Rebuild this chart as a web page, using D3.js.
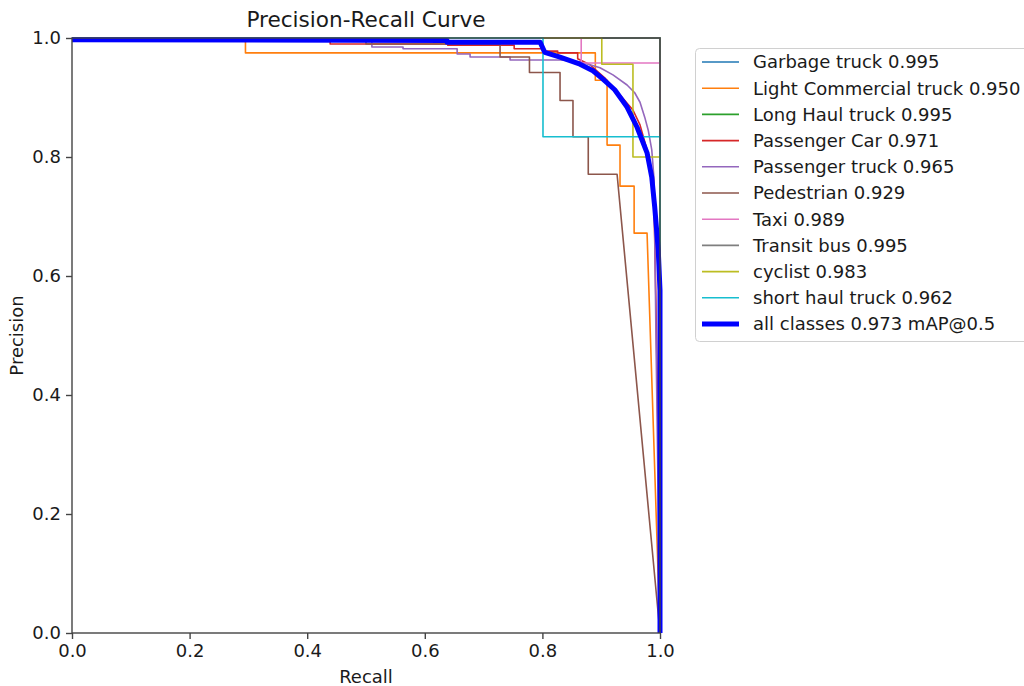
<!DOCTYPE html>
<html>
<head>
<meta charset="utf-8">
<script src="https://cdn.jsdelivr.net/npm/d3@7"></script>
<style>
  body { margin: 0; background: #fff; }
  text { font-family: "DejaVu Sans", sans-serif; fill: #1a1a1a; }
</style>
</head>
<body>
<div id="chart"></div>
<script>
// class names, AP values and colours (matplotlib tab10 + blue for all classes)
const classNames = ["Garbage truck", "Light Commercial truck", "Long Haul truck", "Passenger Car",
  "Passenger truck", "Pedestrian", "Taxi", "Transit bus", "cyclist", "short haul truck"];
const apValues = [0.995, 0.950, 0.995, 0.971, 0.965, 0.929, 0.989, 0.995, 0.983, 0.962];
const colors = ["#1f77b4", "#ff7f0e", "#2ca02c", "#d62728", "#9467bd",
  "#8c564b", "#e377c2", "#7f7f7f", "#bcbd22", "#17becf"];
const allLabel = "all classes 0.973 mAP@0.5";

const xTicks = [0, 0.2, 0.4, 0.6, 0.8, 1.0];
const yTicks = [0, 0.2, 0.4, 0.6, 0.8, 1.0];

// recall / precision points, one pair of arrays per class
const garbageR = [0, 1, 1];
const garbageP = [1, 1, 0];
const lightR = [0, 0.295, 0.295, 0.89, 0.89, 0.91, 0.91, 0.932, 0.932, 0.956, 0.956, 0.978, 1.0];
const lightP = [1, 1, 0.975, 0.975, 0.929, 0.929, 0.82, 0.82, 0.751, 0.751, 0.672, 0.672, 0.0];
const longR = [0, 1, 1];
const longP = [1, 1, 0];
const carR = [0, 0.439, 0.439, 0.639, 0.639, 0.752, 0.752, 0.8, 0.8, 0.826, 0.826, 0.86, 0.86,
  0.881, 0.906, 0.932, 0.954, 0.966, 0.978, 0.986, 0.99, 0.993, 0.997, 1.0];
const carP = [1, 1, 0.99, 0.99, 0.988, 0.988, 0.982, 0.982, 0.978, 0.978, 0.975, 0.975, 0.965,
  0.955, 0.933, 0.904, 0.879, 0.854, 0.812, 0.77, 0.711, 0.56, 0.31, 0.0];
const ptruckR = [0, 0.01, 0.51, 0.51, 0.563, 0.563, 0.655, 0.655, 0.677, 0.677, 0.745, 0.745,
  0.83, 0.864, 0.898, 0.92, 0.944, 0.957, 0.966, 0.974, 0.98, 0.986, 0.99, 0.993, 1.0];
const ptruckP = [1, 0.995, 0.995, 0.985, 0.985, 0.982, 0.982, 0.973, 0.973, 0.968, 0.968, 0.963,
  0.963, 0.96, 0.95, 0.938, 0.921, 0.908, 0.892, 0.867, 0.845, 0.812, 0.761, 0.509, 0.0];
const pedR = [0, 0.5, 0.5, 0.728, 0.728, 0.778, 0.778, 0.83, 0.83, 0.852, 0.852, 0.878, 0.878, 0.927, 1.0];
const pedP = [1, 1, 0.99, 0.99, 0.968, 0.968, 0.942, 0.942, 0.895, 0.895, 0.834, 0.834, 0.771, 0.771, 0.0];
const taxiR = [0, 0.866, 0.866, 1.0, 1.0];
const taxiP = [1, 1, 0.958, 0.958, 0.0];
const busR = [0, 1, 1];
const busP = [1, 1, 0];
const cyclistR = [0, 0.901, 0.901, 0.954, 0.954, 1.0, 1.0];
const cyclistP = [1, 1, 0.956, 0.956, 0.8, 0.8, 0.0];
const shortR = [0, 0.801, 0.801, 1.0, 1.0];
const shortP = [1, 1, 0.834, 0.834, 0.0];
const allR = [0, 0.638, 0.638, 0.796, 0.804, 0.83, 0.864, 0.886, 0.903, 0.923, 0.944, 0.961,
  0.978, 0.986, 0.991, 0.997, 1.0, 1.0];
const allP = [0.997, 0.996, 0.993, 0.993, 0.976, 0.968, 0.956, 0.945, 0.931, 0.913, 0.884, 0.85,
  0.807, 0.766, 0.716, 0.644, 0.576, 0.0];

const recallSets = [garbageR, lightR, longR, carR, ptruckR, pedR, taxiR, busR, cyclistR, shortR];
const precisionSets = [garbageP, lightP, longP, carP, ptruckP, pedP, taxiP, busP, cyclistP, shortP];

const width = 1024, height = 686;
const plotLeft = 72, plotTop = 38, plotW = 588, plotH = 595;

const svg = d3.select("#chart").append("svg")
    .attr("width", width)
    .attr("height", height);
svg.append("rect").attr("width", width).attr("height", height).attr("fill", "#fff");

const x = d3.scaleLinear().domain([0, 1]).range([plotLeft, plotLeft + plotW]);
const y = d3.scaleLinear().domain([0, 1]).range([plotTop + plotH, plotTop]);

const line = d3.line()
    .x(d => x(d[0]))
    .y(d => y(d[1]));

// class curves
recallSets.forEach((rs, i) => {
    const pts = rs.map((r, j) => [r, precisionSets[i][j]]);
    svg.append("path")
        .attr("d", line(pts))
        .attr("fill", "none")
        .attr("stroke", colors[i])
        .attr("stroke-width", 1.6)
        .attr("stroke-linejoin", "round");
});

// all classes, thick blue on top
svg.append("path")
    .attr("d", line(allR.map((r, j) => [r, allP[j]])))
    .attr("fill", "none")
    .attr("stroke", "#0000ff")
    .attr("stroke-width", 5)
    .attr("stroke-linejoin", "round");

// axes
const xAxis = svg.append("g")
    .attr("transform", `translate(0,${plotTop + plotH})`)
    .call(d3.axisBottom(x).tickValues(xTicks).tickFormat(d3.format(".1f")).tickSize(6).tickPadding(5));
const yAxis = svg.append("g")
    .attr("transform", `translate(${plotLeft},0)`)
    .call(d3.axisLeft(y).tickValues(yTicks).tickFormat(d3.format(".1f")).tickSize(6).tickPadding(5));
[xAxis, yAxis].forEach(g => {
    g.select(".domain").remove();
    g.selectAll("line").attr("stroke", "#444").attr("stroke-width", 1.4);
    g.selectAll("text").attr("font-size", 18).attr("font-family", "DejaVu Sans").attr("fill", "#1a1a1a");
});

// spines
svg.append("rect")
    .attr("x", plotLeft).attr("y", plotTop)
    .attr("width", plotW).attr("height", plotH)
    .attr("fill", "none")
    .attr("stroke", "#444")
    .attr("stroke-width", 1.4);

// title and axis labels
svg.append("text")
    .attr("x", plotLeft + plotW / 2).attr("y", 27)
    .attr("text-anchor", "middle")
    .attr("font-size", 21.6)
    .text("Precision-Recall Curve");
svg.append("text")
    .attr("x", plotLeft + plotW / 2).attr("y", 683)
    .attr("text-anchor", "middle")
    .attr("font-size", 18)
    .text("Recall");
svg.append("text")
    .attr("transform", `translate(23,${plotTop + plotH / 2}) rotate(-90)`)
    .attr("text-anchor", "middle")
    .attr("font-size", 18)
    .text("Precision");

// legend
const legend = svg.append("g");
legend.append("rect")
    .attr("x", 695.5).attr("y", 48.5)
    .attr("width", 360).attr("height", 293)
    .attr("rx", 4)
    .attr("fill", "#fff")
    .attr("stroke", "#d0d0d0");

const legendItems = classNames.map((n, i) => ({ label: `${n} ${apValues[i].toFixed(3)}`, color: colors[i], w: 1.6 }));
legendItems.push({ label: allLabel, color: "#0000ff", w: 5 });

legendItems.forEach((d, i) => {
    const cy = 62 + i * 26.2;
    legend.append("line")
        .attr("x1", 702).attr("x2", 739)
        .attr("y1", cy).attr("y2", cy)
        .attr("stroke", d.color)
        .attr("stroke-width", d.w);
    legend.append("text")
        .attr("x", 753).attr("y", cy)
        .attr("dy", "0.35em")
        .attr("font-size", 18)
        .text(d.label);
});
</script>
</body>
</html>
